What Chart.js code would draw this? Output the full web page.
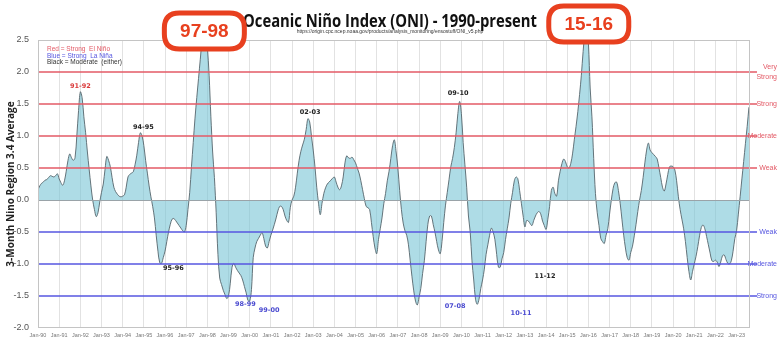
<!DOCTYPE html>
<html><head><meta charset="utf-8">
<script src="https://cdn.jsdelivr.net/npm/chart.js@4.4.0/dist/chart.umd.min.js"></script>
<style>html,body{margin:0;padding:0;background:#fff;}canvas{display:block}</style>
</head><body>
<canvas id="c" width="780" height="353"></canvas>
<script>
// Monthly index values, Jan 1990 .. Aug 2023
const startYear = 1990;
const oniValues = [
  0.16, 0.22, 0.26, 0.28, 0.31, 0.32, 0.35, 0.38, 0.37, 0.36, 0.38, 0.41, // 1990
  0.33, 0.27, 0.23, 0.30, 0.45, 0.62, 0.72, 0.66, 0.62, 0.66, 1.00, 1.40, // 1991
  1.69, 1.60, 1.30, 1.05, 0.75, 0.48, 0.22, 0.00, -0.15, -0.26, -0.20, -0.03, // 1992
  0.12, 0.25, 0.48, 0.68, 0.62, 0.52, 0.35, 0.20, 0.13, 0.09, 0.06, 0.05, // 1993
  0.06, 0.08, 0.20, 0.36, 0.40, 0.42, 0.44, 0.55, 0.70, 0.90, 1.05, 1.00, // 1994
  0.85, 0.62, 0.42, 0.22, 0.05, -0.10, -0.28, -0.55, -0.80, -0.98, -0.99, -0.90, // 1995
  -0.80, -0.65, -0.50, -0.38, -0.30, -0.29, -0.32, -0.36, -0.40, -0.44, -0.48, -0.50, // 1996
  -0.40, -0.15, 0.12, 0.52, 0.90, 1.28, 1.60, 1.90, 2.20, 2.50, 2.70, 2.70, // 1997
  2.40, 1.95, 1.30, 0.75, 0.35, -0.20, -0.85, -1.22, -1.32, -1.41, -1.48, -1.54, // 1998
  -1.50, -1.30, -1.05, -0.99, -1.05, -1.10, -1.14, -1.18, -1.25, -1.35, -1.45, -1.57, // 1999
  -1.58, -1.40, -0.90, -0.75, -0.65, -0.60, -0.55, -0.51, -0.60, -0.72, -0.75, -0.65, // 2000
  -0.55, -0.47, -0.38, -0.28, -0.17, -0.10, -0.10, -0.15, -0.25, -0.32, -0.35, -0.12, // 2001
  0.00, 0.06, 0.20, 0.42, 0.62, 0.76, 0.86, 0.95, 1.10, 1.27, 1.22, 1.00, // 2002
  0.78, 0.52, 0.20, -0.05, -0.23, -0.05, 0.10, 0.19, 0.25, 0.28, 0.31, 0.34, // 2003
  0.36, 0.28, 0.20, 0.16, 0.22, 0.36, 0.58, 0.69, 0.66, 0.65, 0.67, 0.63, // 2004
  0.58, 0.50, 0.42, 0.30, 0.16, 0.02, -0.10, -0.12, -0.15, -0.35, -0.57, -0.75, // 2005
  -0.84, -0.62, -0.45, -0.28, -0.06, 0.10, 0.30, 0.45, 0.65, 0.85, 0.94, 0.75, // 2006
  0.50, 0.15, -0.15, -0.36, -0.48, -0.55, -0.70, -0.95, -1.20, -1.42, -1.58, -1.64, // 2007
  -1.52, -1.38, -1.15, -0.95, -0.65, -0.38, -0.25, -0.25, -0.38, -0.50, -0.65, -0.78, // 2008
  -0.84, -0.65, -0.35, -0.08, 0.12, 0.32, 0.52, 0.65, 0.82, 1.05, 1.35, 1.54, // 2009
  1.35, 0.90, 0.55, 0.20, -0.25, -0.50, -0.95, -1.25, -1.55, -1.63, -1.55, -1.38, // 2010
  -1.25, -1.08, -0.85, -0.70, -0.55, -0.44, -0.50, -0.62, -0.85, -1.05, -1.05, -0.92, // 2011
  -0.82, -0.62, -0.45, -0.28, -0.05, 0.12, 0.30, 0.36, 0.33, 0.15, -0.05, -0.25, // 2012
  -0.42, -0.32, -0.33, -0.37, -0.40, -0.32, -0.25, -0.20, -0.18, -0.22, -0.33, -0.40, // 2013
  -0.46, -0.30, -0.10, 0.15, 0.20, 0.10, 0.06, 0.30, 0.45, 0.57, 0.64, 0.60, // 2014
  0.52, 0.50, 0.57, 0.72, 0.94, 1.15, 1.38, 1.65, 1.95, 2.32, 2.60, 2.70, // 2015
  2.45, 1.75, 1.30, 0.65, 0.10, -0.20, -0.40, -0.60, -0.65, -0.68, -0.55, -0.45, // 2016
  -0.22, 0.00, 0.18, 0.27, 0.28, 0.15, -0.05, -0.30, -0.55, -0.75, -0.90, -0.94, // 2017
  -0.82, -0.72, -0.56, -0.38, -0.18, 0.00, 0.15, 0.35, 0.58, 0.78, 0.89, 0.78, // 2018
  0.74, 0.71, 0.68, 0.64, 0.50, 0.35, 0.20, 0.14, 0.25, 0.40, 0.52, 0.53, // 2019
  0.52, 0.47, 0.30, 0.05, -0.15, -0.30, -0.45, -0.65, -0.90, -1.12, -1.25, -1.12, // 2020
  -1.00, -0.88, -0.73, -0.56, -0.43, -0.39, -0.45, -0.57, -0.70, -0.83, -0.95, -0.96, // 2021
  -0.94, -0.97, -1.04, -0.97, -0.87, -0.86, -0.93, -0.99, -1.00, -0.95, -0.80, -0.60, // 2022
  -0.48, -0.22, 0.05, 0.33, 0.60, 0.88, 1.15, 1.45 // 2023
];

const xTickLabels = ['Jan-90','Jan-91','Jan-92','Jan-93','Jan-94','Jan-95','Jan-96','Jan-97','Jan-98','Jan-99',
  'Jan-00','Jan-01','Jan-02','Jan-03','Jan-04','Jan-05','Jan-06','Jan-07','Jan-08','Jan-09','Jan-10','Jan-11',
  'Jan-12','Jan-13','Jan-14','Jan-15','Jan-16','Jan-17','Jan-18','Jan-19','Jan-20','Jan-21','Jan-22','Jan-23'];
const yMin = -2.0, yMax = 2.5, yStep = 0.5;

const elNinoLevels = [0.5, 1.0, 1.5, 2.0];
const elNinoLabels = [['Weak'], ['Moderate'], ['Strong'], ['Very', 'Strong']];
const laNinaLevels = [-0.5, -1.0, -1.5];
const laNinaLabels = ['Weak', 'Moderate', 'Strong'];

// event labels: name, month index, value, kind (strong El Nino / strong La Nina / moderate)
const eventNames  = ['91-92','94-95','95-96','98-99','99-00','02-03','07-08','09-10','10-11','11-12'];
const eventMonths = [24.0, 59.7, 76.7, 117.6, 131.0, 154.3, 236.4, 238.1, 273.8, 287.4];
const eventValues = [1.78, 1.14, -1.06, -1.625, -1.72, 1.375, -1.66, 1.66, -1.77, -1.20];
const eventKinds  = ['nino','mod','mod','nina','nina','mod','nina','mod','nina','mod'];

const calloutNames  = ['97-98', '15-16'];
const calloutMonths = [94.3, 312.2];
const calloutValues = [2.64, 2.75];

const titleText = 'Oceanic Ni\u00f1o Index (ONI) - 1990-present';
const sourceText = 'https://origin.cpc.ncep.noaa.gov/products/analysis_monitoring/ensostuff/ONI_v5.php';
const legendLines = ['Red = Strong  El Ni\u00f1o', 'Blue = Strong  La Ni\u00f1a', 'Black = Moderate  (either)'];
const yTitle = '3-Month Nino Region 3.4 Average';

const points = oniValues.map((v, i) => ({x: i, y: v}));

const RED = '#e35a66', BLUE = '#5656e0', CALL = '#e8401f';

function roundRect(ctx, x, y, w, h, r) {
  ctx.beginPath();
  ctx.moveTo(x + r, y);
  ctx.lineTo(x + w - r, y); ctx.quadraticCurveTo(x + w, y, x + w, y + r);
  ctx.lineTo(x + w, y + h - r); ctx.quadraticCurveTo(x + w, y + h, x + w - r, y + h);
  ctx.lineTo(x + r, y + h); ctx.quadraticCurveTo(x, y + h, x, y + h - r);
  ctx.lineTo(x, y + r); ctx.quadraticCurveTo(x, y, x + r, y);
  ctx.closePath();
}

const overlay = {
  id: 'overlay',
  afterDatasetsDraw(chart) {
    const {ctx, chartArea: a, scales: {x, y}} = chart;
    ctx.save();
    const hl = (py, x2, color, w) => {
      ctx.strokeStyle = color; ctx.lineWidth = w;
      ctx.beginPath(); ctx.moveTo(a.left, py); ctx.lineTo(x2, py); ctx.stroke();
    };
    hl(Math.round(y.getPixelForValue(0)) + 0.5, a.right, '#9aa3a8', 1);
    elNinoLevels.forEach(v => hl(y.getPixelForValue(v), a.right + 7, RED, 1.4));
    laNinaLevels.forEach(v => hl(y.getPixelForValue(v), a.right + 7, BLUE, 1.4));
    ctx.strokeStyle = '#c4c4c4'; ctx.lineWidth = 1;
    ctx.strokeRect(a.left + 0.5, a.top + 0.5, a.width - 1, a.height - 1);
    ctx.restore();
  },
  afterDraw(chart) {
    const {ctx, chartArea: a, scales: {x, y}} = chart;
    ctx.save();
    // right-side category labels
    ctx.font = '7px "Liberation Sans", Arial, sans-serif';
    ctx.textAlign = 'right'; ctx.textBaseline = 'middle';
    ctx.fillStyle = RED;
    elNinoLevels.forEach((v, i) => {
      const py = y.getPixelForValue(v);
      const lines = elNinoLabels[i];
      if (lines.length === 2) {
        ctx.fillText(lines[0], 777, py - 5);
        ctx.fillText(lines[1], 777, py + 5);
      } else ctx.fillText(lines[0], 777, py);
    });
    ctx.fillStyle = BLUE;
    laNinaLevels.forEach((v, i) => ctx.fillText(laNinaLabels[i], 777, y.getPixelForValue(v)));

    // event labels
    ctx.textAlign = 'center';
    ctx.font = 'bold 6.5px "DejaVu Sans", sans-serif';
    eventNames.forEach((n, i) => {
      ctx.fillStyle = eventKinds[i] === 'nino' ? '#d93a3a' : eventKinds[i] === 'nina' ? '#4a4ad0' : '#222';
      ctx.fillText(n, x.getPixelForValue(eventMonths[i]), y.getPixelForValue(eventValues[i]));
    });

    // legend text
    ctx.textAlign = 'left';
    ctx.font = '6.5px "Liberation Sans", Arial, sans-serif';
    const lc = [RED, BLUE, '#333'];
    legendLines.forEach((t, i) => { ctx.fillStyle = lc[i]; ctx.fillText(t, 47, 49.5 + i * 6.3); });

    // title and source
    ctx.textAlign = 'center'; ctx.textBaseline = 'alphabetic';
    ctx.fillStyle = '#111';
    ctx.font = 'bold 18px "Liberation Sans Narrow", "Open Sans", sans-serif';
    ctx.fillText(titleText, 390, 27, 294);
    ctx.font = '5px "Liberation Sans", Arial, sans-serif';
    ctx.fillStyle = '#333';
    ctx.fillText(sourceText, 390, 33, 224);

    // y axis title
    ctx.save();
    ctx.translate(11, 184); ctx.rotate(-Math.PI / 2);
    ctx.textBaseline = 'middle';
    ctx.font = 'bold 10px "Open Sans", "DejaVu Sans", sans-serif';
    ctx.fillStyle = '#222';
    ctx.fillText(yTitle, 0, 0, 174);
    ctx.restore();

    // callouts
    calloutNames.forEach((n, i) => {
      const cx = x.getPixelForValue(calloutMonths[i]);
      const cy = y.getPixelForValue(calloutValues[i]);
      const w = 80, h = 36;
      roundRect(ctx, cx - w / 2, cy - h / 2, w, h, 15);
      ctx.fillStyle = '#fff'; ctx.fill();
      ctx.lineWidth = 5; ctx.strokeStyle = CALL; ctx.stroke();
      ctx.fillStyle = CALL;
      ctx.font = 'bold 19px "Liberation Sans", Arial, sans-serif';
      ctx.textBaseline = 'middle';
      ctx.fillText(n, cx, cy + 1);
    });
    ctx.restore();
  }
};

new Chart(document.getElementById('c'), {
  type: 'line',
  data: {
    datasets: [{
      data: points,
      borderColor: '#56656c',
      borderWidth: 0.9,
      backgroundColor: 'rgba(120,196,214,0.6)',
      fill: 'origin',
      pointRadius: 0,
      tension: 0.35
    }]
  },
  options: {
    responsive: false,
    animation: false,
    devicePixelRatio: 1,
    layout: {padding: {top: 40, right: 30, left: 0, bottom: 0}},
    plugins: {legend: {display: false}, tooltip: {enabled: false}},
    scales: {
      x: {
        type: 'linear', min: 0, max: 403.6,
        afterBuildTicks: s => { s.ticks = xTickLabels.map((l, i) => ({value: i * 12})); },
        afterFit: s => { s.height = 25; },
        border: {display: false},
        grid: {color: '#e2e2e2', lineWidth: 1, drawTicks: false},
        ticks: {
          autoSkip: false, maxRotation: 0, padding: 4,
          color: '#777', font: {size: 5.5, family: '"Liberation Sans", Arial, sans-serif'},
          callback: v => xTickLabels[Math.round(v / 12)]
        }
      },
      y: {
        min: yMin, max: yMax,
        afterFit: s => { s.width = 38; },
        border: {display: false},
        grid: {display: false, drawTicks: false},
        ticks: {
          stepSize: yStep, padding: 9,
          color: '#555', font: {size: 9, family: '"Liberation Sans", Arial, sans-serif'},
          callback: v => Number(v).toFixed(1)
        }
      }
    }
  },
  plugins: [overlay]
});
</script>
</body></html>
